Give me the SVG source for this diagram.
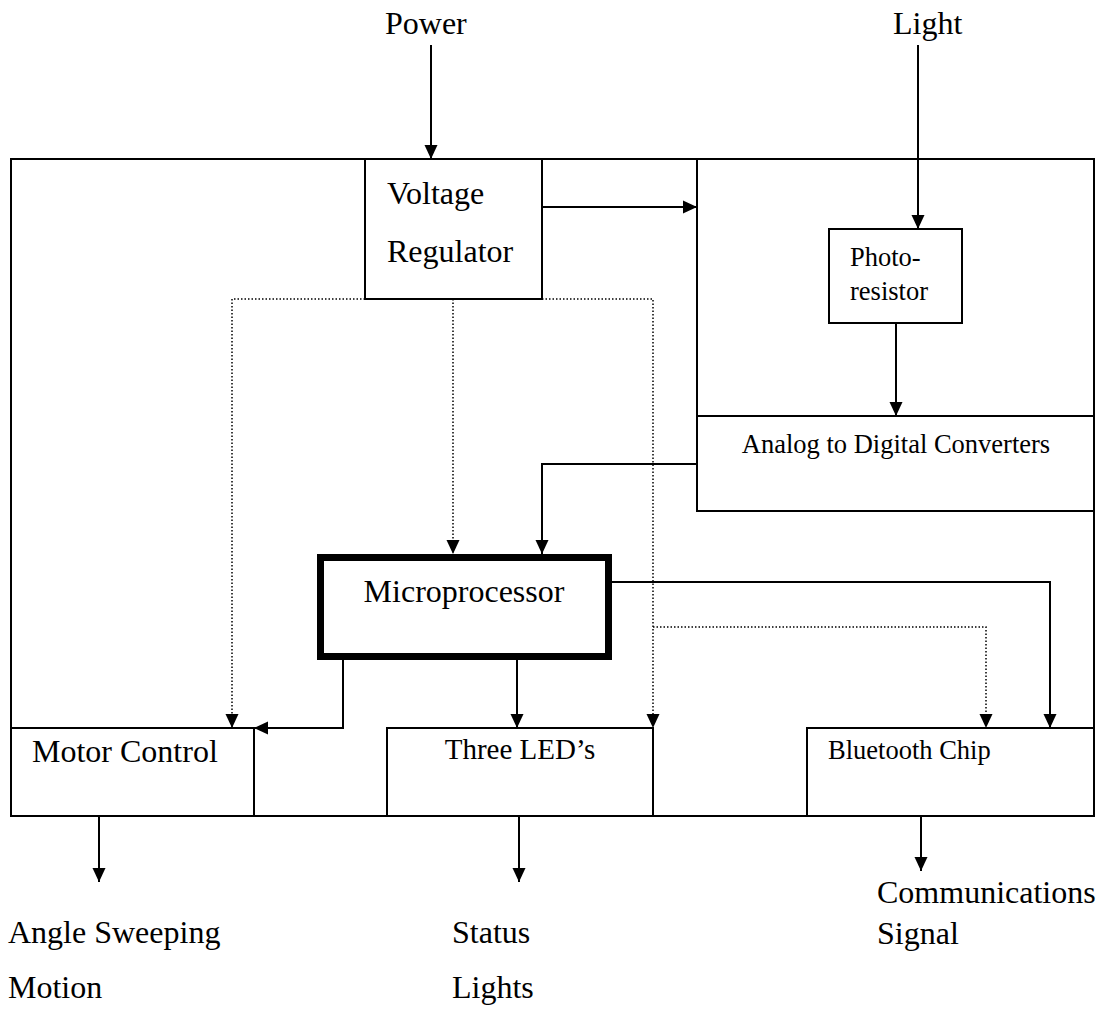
<svg xmlns="http://www.w3.org/2000/svg" width="1099" height="1013" viewBox="0 0 1099 1013">
<defs>
<style>
.box{fill:none;stroke:#000;stroke-width:2}
.ln{fill:none;stroke:#000;stroke-width:2}
.dot{fill:none;stroke:#000;stroke-width:1.5;stroke-dasharray:1.5 2}
.t{font-family:"Liberation Serif","Times New Roman",serif;fill:#000}
.big{font-size:32px}
.mid{font-size:29px}
.sm{font-size:26.5px}
</style>
<marker id="ah" markerWidth="14" markerHeight="14" viewBox="0 0 14 14" refX="14" refY="7" orient="auto" markerUnits="userSpaceOnUse">
<path d="M0,0.5 L14,7 L0,13.5 Z" fill="#000"/>
</marker>
</defs>
<rect width="1099" height="1013" fill="#fff"/>

<g id="outer"><rect class="box" x="11" y="159" width="1083" height="657"/></g>

<g id="power-label"><text class="t big" x="385" y="34">Power</text></g>
<g id="light-label"><text class="t big" x="893" y="34">Light</text></g>

<g id="voltage-regulator">
<rect class="box" x="365" y="159" width="177" height="140" fill="#fff"/>
<text class="t big" x="387" y="204">Voltage</text>
<text class="t big" x="387" y="262">Regulator</text>
</g>

<g id="adc-block">
<rect class="box" x="697" y="159" width="397" height="352"/>
<line class="ln" x1="697" y1="416" x2="1094" y2="416"/>
<text class="t sm" x="896" y="453" text-anchor="middle">Analog to Digital Converters</text>
</g>

<g id="photoresistor">
<rect class="box" x="829" y="229" width="133" height="94"/>
<text class="t sm" x="850" y="266">Photo-</text>
<text class="t sm" x="850" y="300">resistor</text>
</g>

<g id="microprocessor">
<rect x="320.5" y="557.5" width="288" height="99" fill="none" stroke="#000" stroke-width="7"/>
<text class="t big" x="464" y="602" text-anchor="middle">Microprocessor</text>
</g>

<g id="motor-control">
<rect class="box" x="11" y="728" width="243" height="88"/>
<text class="t big" x="32" y="762">Motor Control</text>
</g>

<g id="three-leds">
<rect class="box" x="387" y="728" width="266" height="88"/>
<text class="t mid" x="520" y="759" text-anchor="middle">Three LED’s</text>
</g>

<g id="bluetooth">
<rect class="box" x="807" y="728" width="287" height="88"/>
<text class="t sm" x="828" y="759">Bluetooth Chip</text>
</g>

<g id="labels-out">
<text class="t big" x="8" y="943">Angle Sweeping</text>
<text class="t big" x="8" y="998">Motion</text>
<text class="t big" x="452" y="943">Status</text>
<text class="t big" x="452" y="998">Lights</text>
<text class="t big" x="877" y="903">Communications</text>
<text class="t big" x="877" y="944">Signal</text>
</g>

<g id="connectors">
<line class="ln" x1="431" y1="45" x2="431" y2="159" marker-end="url(#ah)"/>
<line class="ln" x1="918" y1="45" x2="918" y2="229" marker-end="url(#ah)"/>
<line class="ln" x1="542" y1="207" x2="697" y2="207" marker-end="url(#ah)"/>
<line class="ln" x1="896" y1="323" x2="896" y2="416" marker-end="url(#ah)"/>
<polyline class="ln" points="697,464 542,464 542,554" marker-end="url(#ah)"/>
<polyline class="ln" points="612,582 1050,582 1050,728" marker-end="url(#ah)"/>
<line class="ln" x1="517" y1="660" x2="517" y2="728" marker-end="url(#ah)"/>
<polyline class="ln" points="343,660 343,728 254,728" marker-end="url(#ah)"/>
<polyline class="dot" points="365,299 232,299 232,728" marker-end="url(#ah)"/>
<line class="dot" x1="453" y1="299" x2="453" y2="554" marker-end="url(#ah)"/>
<polyline class="dot" points="542,299 653,299 653,728" marker-end="url(#ah)"/>
<polyline class="dot" points="653,627 986,627 986,728" marker-end="url(#ah)"/>
<line class="ln" x1="99" y1="816" x2="99" y2="882" marker-end="url(#ah)"/>
<line class="ln" x1="519" y1="816" x2="519" y2="882" marker-end="url(#ah)"/>
<line class="ln" x1="921" y1="816" x2="921" y2="871" marker-end="url(#ah)"/>
</g>
</svg>
